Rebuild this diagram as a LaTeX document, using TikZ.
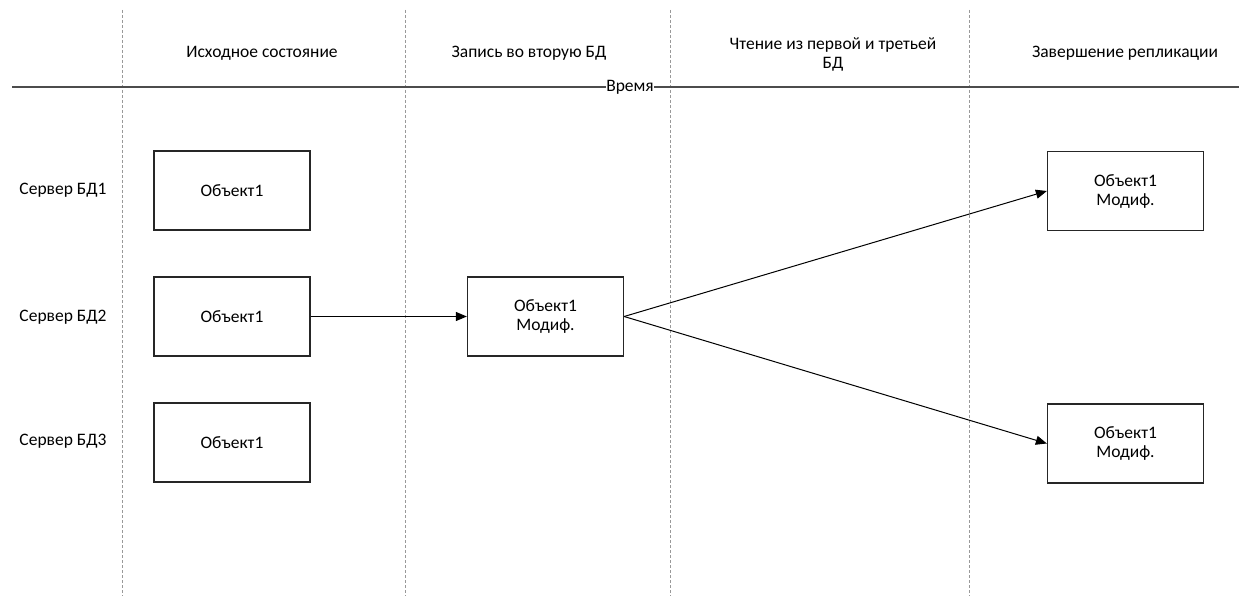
\documentclass[tikz,border=0pt]{standalone}
\usepackage{fontspec}
\setmainfont{Carlito}
\usetikzlibrary{arrows.meta}
\begin{document}
\begin{tikzpicture}[x=1pt,y=-1pt,
  font=\fontsize{17.5}{19}\selectfont,
  objbox/.style={draw=black!85,line width=1.3pt,minimum width=156pt,minimum height=79pt,align=center,inner sep=0pt},
  lane/.style={draw=black!40,dashed,dash pattern=on 3pt off 2pt,line width=0.6pt},
  flow/.style={draw=black,line width=1pt,-{Triangle[length=11pt,width=9pt]}},
  hdr/.style={align=center,inner sep=0pt}]
\useasboundingbox (0,0) rectangle (1239,596);
% swimlane separators
\foreach \x/\n in {122/a,405/b,670/c,969/d}{
  \coordinate (top\n) at (\x,10);
  \coordinate (bot\n) at (\x,596);
  \draw[lane] (top\n) -- (bot\n);
}
% time axis
\coordinate (tl) at (12,87);
\coordinate (tr) at (1239,87);
\draw[draw=black!70,line width=1.6pt] (tl) -- (tr);
\node[fill=white,inner sep=0.5pt] (time) at (630,87) {Время};
% column headers
\node[hdr] (h1) at (262,53) {Исходное состояние};
\node[hdr] (h2) at (529,53) {Запись во вторую БД};
\node[hdr] (h3) at (833,54) {Чтение из первой и третьей\\БД};
\node[hdr] (h4) at (1125,53) {Завершение репликации};
% row labels
\node (r1) at (63,190) {Сервер БД1};
\node (r2) at (63,317) {Сервер БД2};
\node (r3) at (63,441) {Сервер БД3};
% objects
\node[objbox] (o1) at (232,190.5) {Объект1};
\node[objbox] (o2) at (232,316.5) {Объект1};
\node[objbox] (o3) at (232,442.5) {Объект1};
\node[objbox] (m) at (545.5,316.5) {Объект1\\Модиф.};
\node[objbox] (f1) at (1125.5,191) {Объект1\\Модиф.};
\node[objbox] (f3) at (1125.5,443.5) {Объект1\\Модиф.};
% replication flows
\draw[flow] (o2.east) -- (m.west);
\draw[flow] (m.east) -- (f1.west);
\draw[flow] (m.east) -- (f3.west);
\end{tikzpicture}
\end{document}
